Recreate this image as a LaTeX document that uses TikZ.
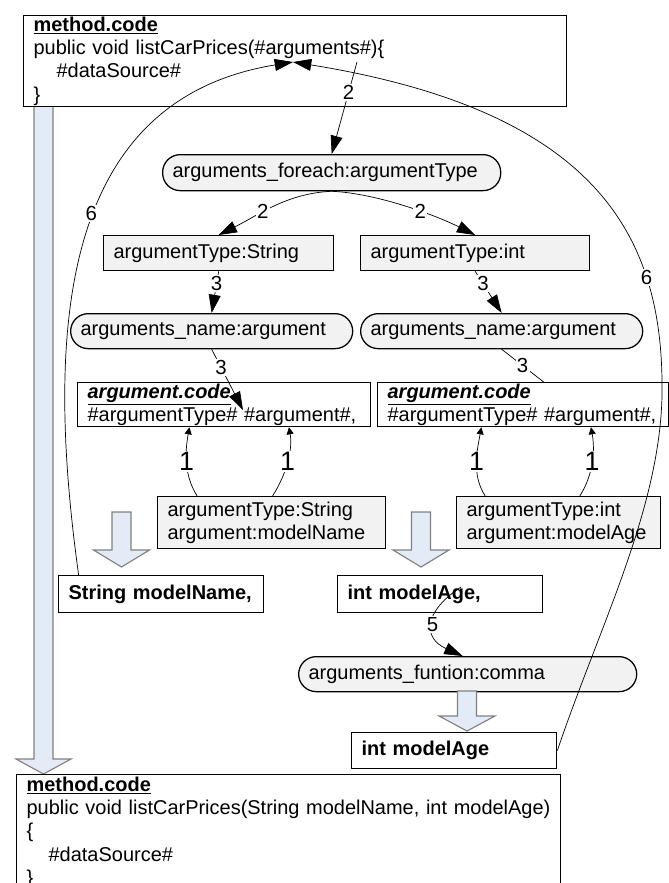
\documentclass[tikz,border=0pt]{standalone}
\usepackage{fontspec}
\setmainfont{Liberation Sans}
\usetikzlibrary{arrows.meta,calc}
\definecolor{boxgray}{rgb}{0.95,0.95,0.95}
\definecolor{arrowblue}{rgb}{0.89,0.92,0.97}
\definecolor{edgegray}{rgb}{0.5,0.5,0.5}

\begin{document}
\begin{tikzpicture}[x=0.025cm, y=-0.025cm,
    codebox/.style={draw, line width=0.9pt, fill=white, anchor=north west, align=left,
        inner xsep=0.25cm, inner ysep=0pt, font=\fontsize{14.2}{16.6}\selectfont},
    databox/.style={codebox, fill=boxgray},
    pill/.style={databox, rounded corners=0.44cm},
    result/.style={codebox, font=\fontsize{14.2}{16.6}\selectfont\bfseries},
    flow/.style={line width=0.5pt, -{Triangle[length=13pt,width=8.5pt]}},
    link/.style={line width=0.5pt, -{Triangle[length=5pt,width=5pt]}},
    lbl/.style={fill=white, inner sep=1pt, font=\fontsize{14.5}{14.5}\selectfont},
    lblbig/.style={lbl, font=\fontsize{19}{19}\selectfont},
    blockarrow/.style={fill=arrowblue, draw=edgegray, line width=0.8pt}]
    \useasboundingbox (0,0) rectangle (669,883);
    \clip (0,0) rectangle (669,883);
    % the long arrow from the template to the result
    \draw[blockarrow] (34,106) -- (34,759) -- (16,759) -- (43.5,774) -- (71,759) -- (53,759) -- (53,106) -- cycle;
    \node[codebox, text width=13.075cm, minimum height=2.275cm] (mtop) at (23,15)
        {\underline{\textbf{method.code}}\\public void listCarPrices(\#arguments\#)\{\\\hspace*{0.575cm}\#dataSource\#\\\}};
    \node[pill, text width=7.95cm, minimum height=0.9cm] (foreach) at (162,154) {arguments\_foreach:argumentType};
    \node[databox, text width=5.25cm, minimum height=0.875cm] (typeS) at (103,235) {argumentType:String};
    \node[databox, text width=5.225cm, minimum height=0.875cm] (typeI) at (360,235) {argumentType:int};
    \node[pill, text width=6.55cm, minimum height=0.875cm] (nameS) at (70,313) {arguments\_name:argument};
    \node[pill, text width=6.55cm, minimum height=0.875cm] (nameI) at (360,313) {arguments\_name:argument};
    \node[codebox, text width=6.825cm, minimum height=1.1cm] (codeS) at (77,382)
        {\underline{\textbf{\textit{argument.code}}}\\\#argumentType\# \#argument\#,};
    \node[codebox, text width=6.775cm, minimum height=1.1cm] (codeI) at (377,382)
        {\underline{\textbf{\textit{argument.code}}}\\\#argumentType\# \#argument\#,};
    \node[databox, text width=5.2cm, minimum height=1.3cm] (dataS) at (157,496) {argumentType:String\\argument:modelName};
    \node[databox, text width=4.6cm, minimum height=1.3cm] (dataI) at (456,496) {argumentType:int\\argument:modelAge};
    \node[result, text width=4.625cm, minimum height=0.925cm] (resS) at (58,575) {String modelName,};
    \node[result, text width=4.625cm, minimum height=0.925cm] (resI) at (337,575) {int modelAge,};
    \node[pill, text width=7.95cm, minimum height=0.875cm] (comma) at (298,656) {arguments\_funtion:comma};
    \node[result, text width=4.625cm, minimum height=0.9cm] (resI2) at (351,732) {int modelAge};
    \node[codebox, text width=13.1cm, inner ysep=0.05cm] (mbot) at (16,774)
        {\underline{\textbf{method.code}}\\public void listCarPrices(String modelName, int modelAge)\\\{\\\hspace*{0.55cm}\#dataSource\#\\\}};
    % small block arrows
    \foreach \c/\t/\b/\e in {121.5/512/550/567, 421/512/550/567, 467/691/716/731}
    \draw[blockarrow] (\c-9.5,\t) -- (\c-9.5,\b) -- (\c-28,\b) -- (\c,\e) -- (\c+28,\b) -- (\c+9.5,\b) -- (\c+9.5,\t) -- cycle;
    % points inside the code texts
    \coordinate (argsTxt) at (357,62);
    \coordinate (argsTip) at (293,62);
    \coordinate (argS) at (243,410);
    \coordinate (ageTxt) at (461,587);
    \coordinate (bendR) at (662,380);
    \draw[flow] (argsTxt) -- node[lbl, pos=0.33] (l2) {2} (foreach.north);
    \draw[flow] (foreach.south) .. controls +(-45,2) and +(40,-20) .. node[lbl, pos=0.6] (l2s) {2} (typeS.north);
    \draw[flow] (foreach.south) .. controls +(45,2) and +(-40,-20) .. node[lbl, pos=0.6] (l2i) {2} (typeI.north);
    \draw[flow] (typeS.south) -- node[lbl, pos=0.3] (l3s) {3} (nameS.north);
    \draw[flow] (typeI.south) -- node[lbl, pos=0.3] (l3i) {3} (nameI.north);
    \draw[flow] (nameS.south) -- node[lbl, pos=0.3] (l3a) {3} (argS);
    \draw[line width=0.5pt] (nameI.south) -- node[lbl, pos=0.5] (l3b) {3} ($(codeI.north west)!0.57!(codeI.north east)$);
    \foreach \d/\k/\f/\t/\s in {dataS/codeS/0.175/0.382/-1, dataS/codeS/0.504/0.72/1, dataI/codeI/0.142/0.357/-1, dataI/codeI/0.603/0.732/1}
    \draw[link] ($(\d.north west)!\f!(\d.north east)$) .. controls +(14*\s,-22) and +(4*\s,22) .. node[lblbig] {1} ($(\k.south west)!\t!(\k.south east)$);
    \draw[flow] (ageTxt) .. controls +(-38,25) and +(-40,-18) .. node[lbl] (l5) {5} ($(comma.north west)!0.485!(comma.north east)$);
    \draw[flow] ($(resS.north west)!0.1!(resS.north east)$) .. controls +(-34,-245) and +(-233,38) .. node[lbl, pos=0.55, xshift=-0.1cm] (l6s) {6} (argsTip);
    \draw[flow] (resI2.east) .. controls +(44,-130) and +(3,120) .. (bendR) .. controls +(-2,-150) and +(297,48) .. node[lbl, pos=0.24] (l6i) {6} (argsTip);
\end{tikzpicture}
\end{document}
